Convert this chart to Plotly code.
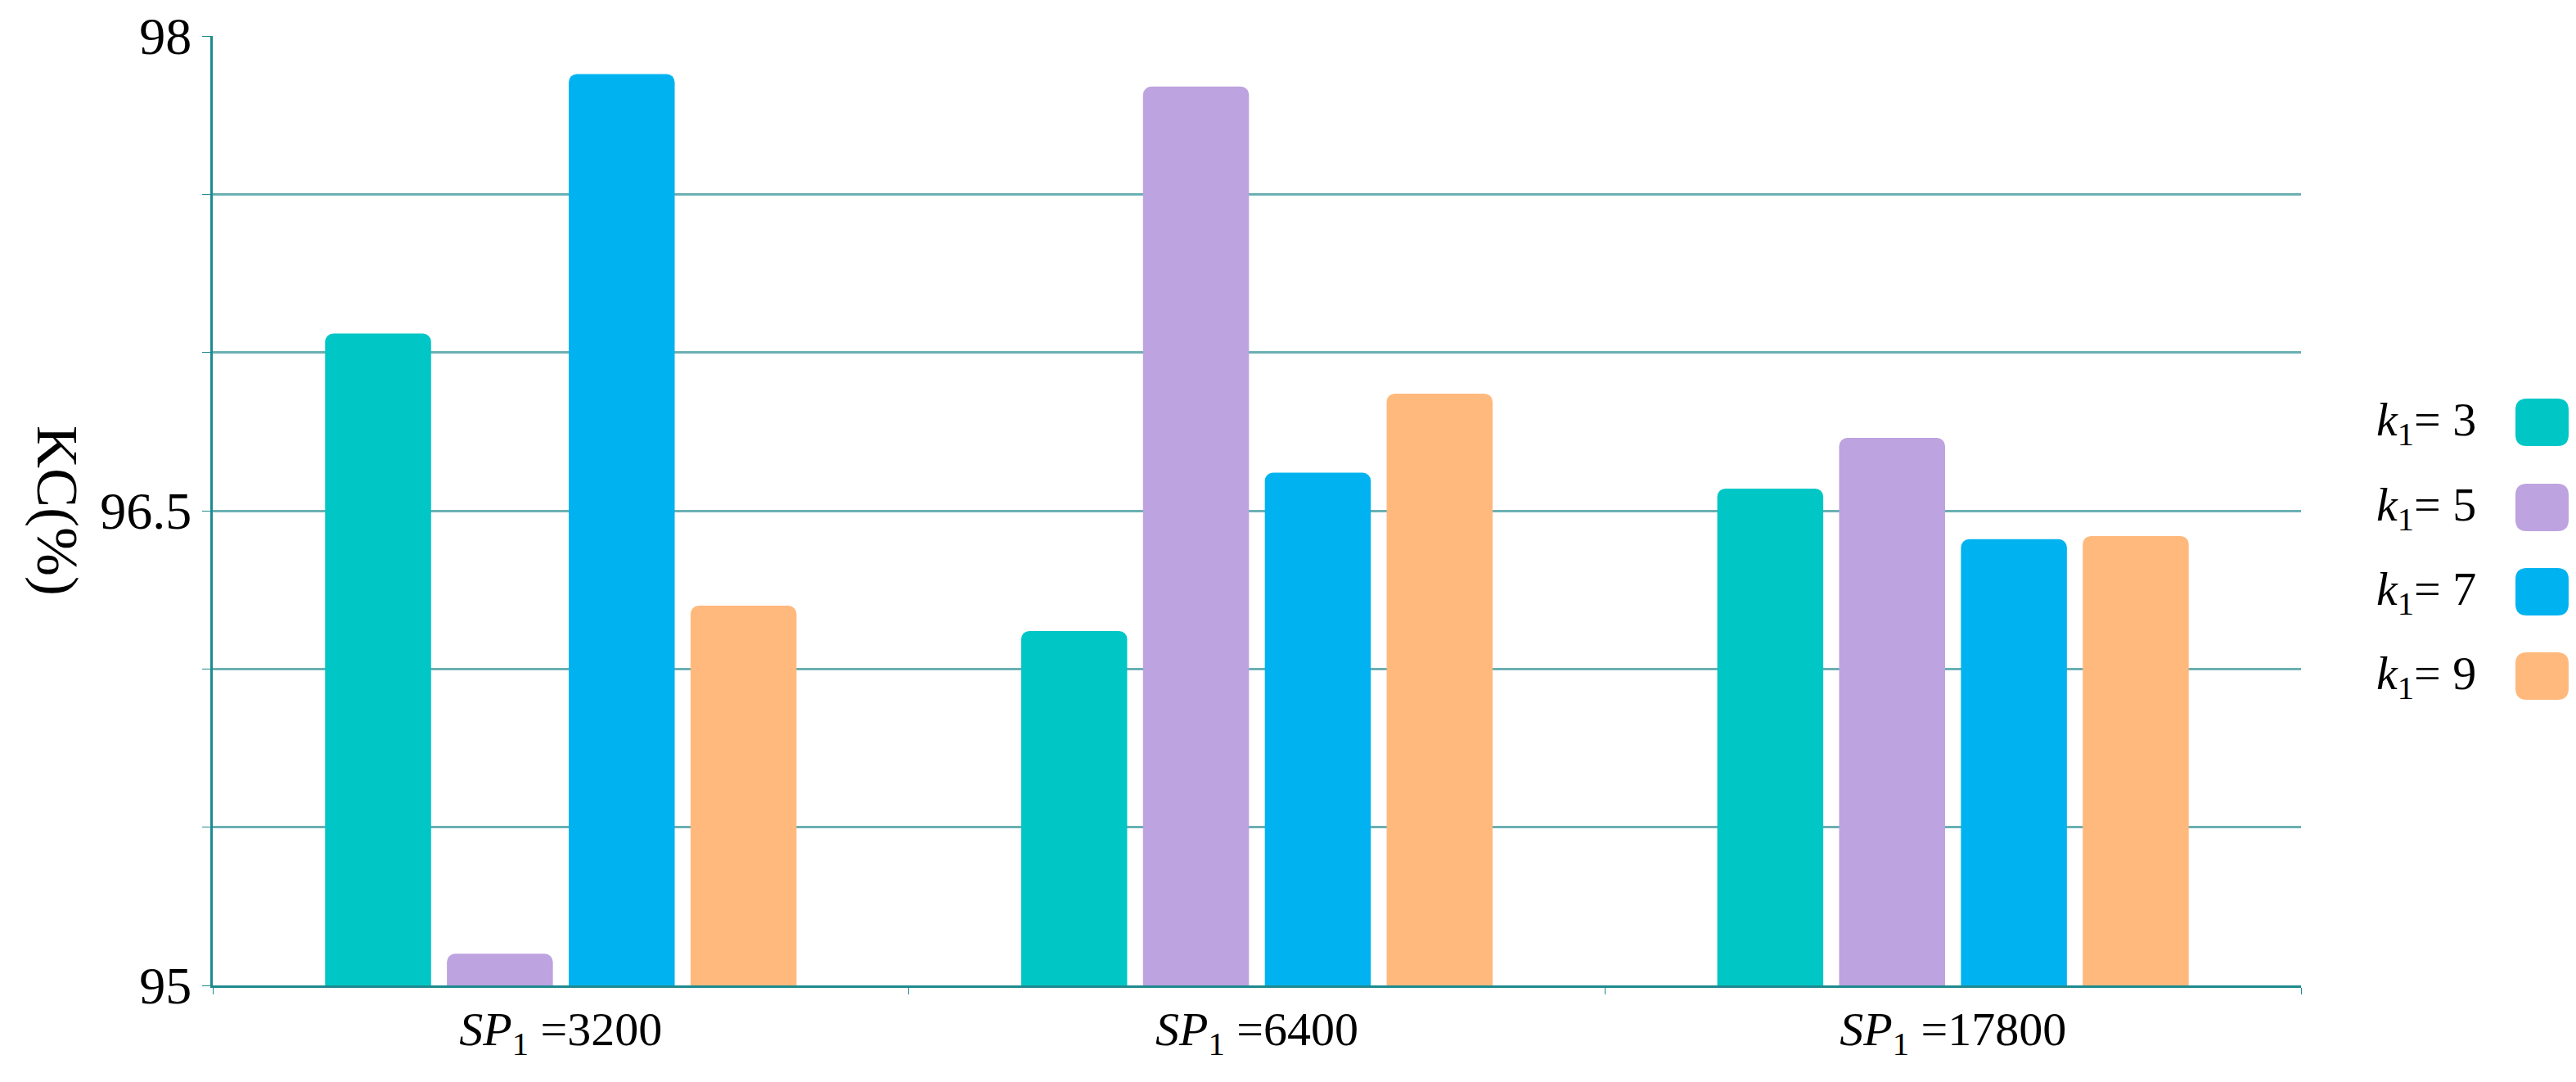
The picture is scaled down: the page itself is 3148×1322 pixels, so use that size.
import plotly.graph_objects as go

groups = ["<i>SP</i><sub>1</sub> =3200", "<i>SP</i><sub>1</sub> =6400", "<i>SP</i><sub>1</sub> =17800"]
series_names = ["3", "5", "7", "9"]
k3 = [97.06, 96.12, 96.57]
k5 = [95.10, 97.84, 96.73]
k7 = [97.88, 96.62, 96.41]
k9 = [96.20, 96.87, 96.42]
colors = ["#00C6C6", "#BDA3DF", "#00B3F0", "#FFB97D"]

W, H = 3148, 1322
L, R, T, B = 252, 344, 36, 126
fig = go.Figure()
for name, vals, c in zip(series_names, [k3, k5, k7, k9], colors):
    fig.add_trace(go.Bar(x=groups, y=vals, name=name, marker=dict(color=c, cornerradius=10, line=dict(width=0)),
                         showlegend=False))

axis_col = "#1E8A8F"
font = "Liberation Serif, DejaVu Serif, serif"
fig.update_layout(
    width=W, height=H, margin=dict(l=L, r=R, t=T, b=B, autoexpand=False),
    plot_bgcolor="white", paper_bgcolor="white",
    barmode="group", bargap=0.30, bargroupgap=0.13,
    font=dict(family=font, color="black", size=60),
    xaxis=dict(tickson="boundaries", ticks="outside", ticklen=8, tickcolor=axis_col,
               showline=True, linecolor=axis_col, linewidth=3, showgrid=False,
               tickfont=dict(size=58), automargin=False),
    yaxis=dict(range=[95, 98], tickvals=[95, 95.5, 96, 96.5, 97, 97.5, 98],
               ticktext=["95", "", "", "96.5", "", "", "98"], ticks="outside", ticklen=10,
               tickcolor=axis_col, showline=True, linecolor=axis_col, linewidth=3,
               showgrid=True, gridcolor="#6BB0B3", gridwidth=3, zeroline=False,
               tickfont=dict(size=64), automargin=False),
)

pw = W - L - R
ph = H - T - B
def px(x):
    return (x - L) / pw
def py(y):
    return (H - B - y) / ph

fig.add_annotation(xref="paper", yref="paper", x=px(62), y=py(616), textangle=90,
                   text="KC(%)", showarrow=False, font=dict(size=72),
                   xanchor="center", yanchor="middle")

def rounded_rect(x0, y0, x1, y1, r):
    # pixel coords -> paper coords path
    pts = [
        f"M {px(x0 + r)},{py(y0)}", f"L {px(x1 - r)},{py(y0)}",
        f"Q {px(x1)},{py(y0)} {px(x1)},{py(y0 + r)}", f"L {px(x1)},{py(y1 - r)}",
        f"Q {px(x1)},{py(y1)} {px(x1 - r)},{py(y1)}", f"L {px(x0 + r)},{py(y1)}",
        f"Q {px(x0)},{py(y1)} {px(x0)},{py(y1 - r)}", f"L {px(x0)},{py(y0 + r)}",
        f"Q {px(x0)},{py(y0)} {px(x0 + r)},{py(y0)}", "Z",
    ]
    return " ".join(pts)

centers = [508, 612, 715, 818]
for name, c, yc in zip(series_names, colors, centers):
    fig.add_annotation(xref="paper", yref="paper", x=px(3020), y=py(yc), xanchor="right", yanchor="middle",
                       text="<i>k</i><sub>1</sub>= " + name, showarrow=False, font=dict(size=58))
    fig.add_shape(type="path", xref="paper", yref="paper",
                  path=rounded_rect(3066, yc - 29, 3131, yc + 29, 14),
                  fillcolor=c, line=dict(width=0))

fig.write_html("out.html")
